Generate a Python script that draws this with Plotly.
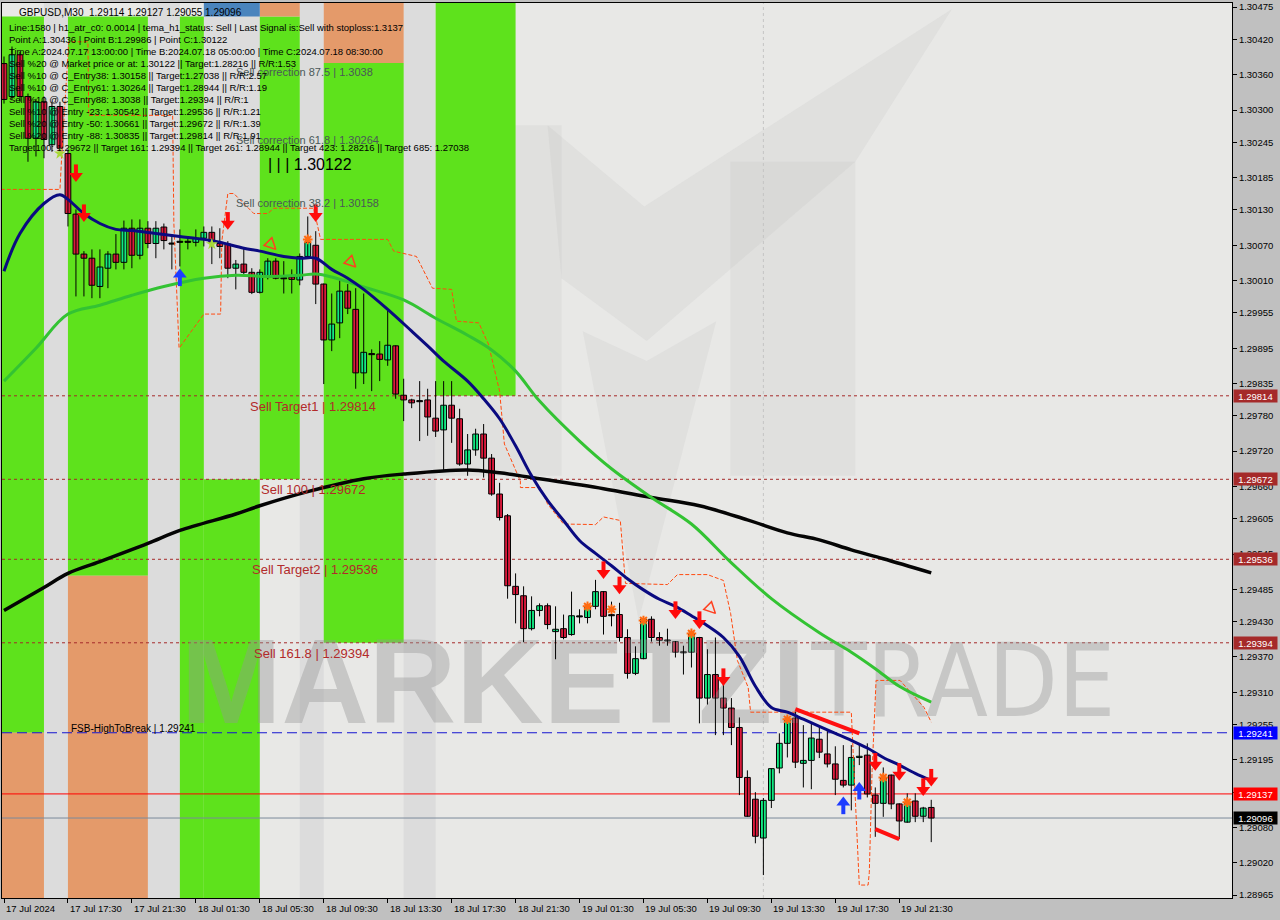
import plotly.graph_objects as go
import pandas as pd

# ---------------- data ----------------
t0 = pd.Timestamp("2024-07-17 13:30")
times = pd.date_range(t0, periods=117, freq="30min")
pos = [int((t - t0) / pd.Timedelta("30min")) for t in times]

opens = [1.30379,1.30323,1.30394,1.30323,1.30252,1.30314,1.30241,1.30306,1.30226,1.30123,
         1.30055,1.30048,1.30000,1.30031,1.30055,1.30041,1.30099,1.30053,1.30099,1.30073,
         1.30101,1.30073,1.30075,1.30075,1.30075,1.30082,1.30092,1.30073,1.30072,1.30031,
         1.30038,1.30024,1.29990,1.30016,1.30043,1.30014,1.30016,1.30011,1.30051,1.30070,
         1.30004,1.29909,1.29938,1.29992,1.29961,1.29853,1.29885,1.29885,1.29875,1.29899,
         1.29815,1.29807,1.29805,1.29807,1.29776,1.29756,1.29798,1.29775,1.29698,1.29722,
         1.29749,1.29708,1.29647,1.29610,1.29490,1.29474,1.29418,1.29449,1.29457,1.29413,
         1.29418,1.29408,1.29439,1.29437,1.29456,1.29481,1.29440,1.29442,1.29403,1.29342,
         1.29367,1.29434,1.29403,1.29398,1.29396,1.29378,1.29378,1.29403,1.29300,1.29340,
         1.29300,1.29283,1.29250,1.29165,1.29128,1.29062,1.29126,1.29181,1.29223,1.29266,
         1.29189,1.29194,1.29230,1.29205,1.29188,1.29160,1.29152,1.29199,1.29203,1.29135,
         1.29121,1.29169,1.29120,1.29089,1.29125,1.29099,1.29114]
highs = [1.30391,1.30408,1.30399,1.30328,1.30319,1.30323,1.30314,1.30314,1.30233,1.30131,
         1.30060,1.30063,1.30063,1.30060,1.30089,1.30112,1.30114,1.30114,1.30111,1.30111,
         1.30107,1.30089,1.30097,1.30085,1.30097,1.30102,1.30102,1.30099,1.30077,1.30045,
         1.30067,1.30031,1.30029,1.30048,1.30048,1.30043,1.30029,1.30056,1.30119,1.30094,
         1.30005,1.29988,1.30012,1.30004,1.29997,1.29988,1.29893,1.29907,1.29961,1.29900,
         1.29843,1.29809,1.29839,1.29826,1.29839,1.29839,1.29839,1.29792,1.29749,1.29758,
         1.29766,1.29715,1.29666,1.29613,1.29512,1.29490,1.29473,1.29461,1.29461,1.29456,
         1.29442,1.29481,1.29451,1.29461,1.29501,1.29482,1.29464,1.29462,1.29417,1.29388,
         1.29437,1.29439,1.29412,1.29418,1.29397,1.29389,1.29413,1.29404,1.29383,1.29403,
         1.29325,1.29300,1.29267,1.29177,1.29140,1.29130,1.29180,1.29240,1.29269,1.29277,
         1.29254,1.29257,1.29254,1.29247,1.29218,1.29220,1.29220,1.29223,1.29223,1.29148,
         1.29182,1.29170,1.29121,1.29138,1.29138,1.29115,1.29127]
lows = [1.30311,1.30318,1.30314,1.30212,1.30221,1.30218,1.30229,1.30229,1.30102,1.29983,
        1.29983,1.29980,1.29980,1.29997,1.30029,1.30029,1.30031,1.30046,1.30065,1.30048,
        1.30063,1.30029,1.30034,1.30063,1.30068,1.30068,1.30038,1.30048,1.30014,1.29995,
        1.30021,1.29987,1.29988,1.30012,1.30012,1.29988,1.29988,1.30002,1.30048,1.29970,
        1.29834,1.29890,1.29912,1.29953,1.29826,1.29834,1.29822,1.29839,1.29865,1.29809,
        1.29771,1.29793,1.29737,1.29746,1.29744,1.29688,1.29734,1.29695,1.29678,1.29712,
        1.29675,1.29644,1.29602,1.29469,1.29427,1.29395,1.29415,1.29439,1.29417,1.29366,
        1.29400,1.29406,1.29427,1.29427,1.29451,1.29408,1.29422,1.29396,1.29333,1.29339,
        1.29366,1.29396,1.29389,1.29389,1.29369,1.29340,1.29352,1.29257,1.29289,1.29237,
        1.29237,1.29220,1.29135,1.29098,1.29053,1.28999,1.29113,1.29172,1.29199,1.29181,
        1.29148,1.29145,1.29198,1.29182,1.29135,1.29148,1.29109,1.29186,1.29131,1.29064,
        1.29098,1.29111,1.29060,1.29088,1.29089,1.29089,1.29055]
closes = [1.30318,1.30394,1.30323,1.30252,1.30314,1.30250,1.30306,1.30235,1.30124,1.30055,
          1.30048,1.30002,1.30033,1.30055,1.30041,1.30099,1.30053,1.30099,1.30073,1.30099,
          1.30078,1.30072,1.30076,1.30075,1.30082,1.30092,1.30075,1.30068,1.30031,1.30038,
          1.30024,1.29990,1.30024,1.30043,1.30014,1.30013,1.30012,1.30051,1.30075,1.30004,
          1.29909,1.29936,1.29992,1.29963,1.29853,1.29888,1.29884,1.29876,1.29900,1.29817,
          1.29807,1.29802,1.29804,1.29778,1.29754,1.29798,1.29776,1.29698,1.29722,1.29749,
          1.29708,1.29647,1.29607,1.29491,1.29476,1.29418,1.29449,1.29457,1.29425,1.29417,
          1.29403,1.29440,1.29438,1.29454,1.29481,1.29439,1.29442,1.29403,1.29342,1.29367,
          1.29434,1.29403,1.29398,1.29397,1.29378,1.29377,1.29410,1.29300,1.29340,1.29300,
          1.29283,1.29250,1.29165,1.29099,1.29065,1.29126,1.29180,1.29223,1.29264,1.29191,
          1.29194,1.29232,1.29208,1.29188,1.29162,1.29152,1.29199,1.29201,1.29137,1.29121,
          1.29165,1.29120,1.29091,1.29121,1.29099,1.29113,1.29096]

# moving averages (bar index, price)
navy_idx = [0,2,5,7,8,10,12,14,16,19,22,25,27,30,32,35,37,39,41,43,45,48,51,53,55,58,60,62,64,66,
            68,70,72,74,76,78,80,82,84,86,88,90,92,94,96,98,100,102,104,106,108,110,112,114,116]
navy_val = [1.30026,1.30090,1.30141,1.30156,1.30148,1.30124,1.30107,1.30097,1.30095,1.30090,
            1.30085,1.30080,1.30075,1.30065,1.30060,1.30051,1.30048,1.30048,1.30029,1.30014,
            1.29995,1.29961,1.29924,1.29899,1.29873,1.29839,1.29809,1.29775,1.29729,1.29678,
            1.29636,1.29602,1.29568,1.29546,1.29525,1.29503,1.29484,1.29468,1.29456,1.29440,
            1.29423,1.29403,1.29371,1.29320,1.29284,1.29276,1.29264,1.29252,1.29240,1.29228,
            1.29215,1.29199,1.29186,1.29172,1.29160]
green_idx = [0,4,8,12,16,20,25,29,33,37,39,41,45,50,54,58,61,64,67,72,76,81,86,91,96,102,106,109,112,116]
green_val = [1.29839,1.29895,1.29953,1.29968,1.29985,1.30000,1.30014,1.30019,1.30017,1.30019,
             1.30021,1.30016,1.29999,1.29977,1.29946,1.29917,1.29892,1.29856,1.29805,1.29737,
             1.29690,1.29641,1.29596,1.29530,1.29469,1.29411,1.29378,1.29350,1.29320,1.29293]
black_idx = [0,5,8,12,18,22,29,32,38,45,50,58,62,67,75,81,87,93,98,102,106,110,116]
black_val = [1.29449,1.29488,1.29512,1.29532,1.29563,1.29585,1.29613,1.29627,1.29651,1.29673,
             1.29681,1.29688,1.29683,1.29673,1.29656,1.29641,1.29627,1.29603,1.29581,1.29569,
             1.29552,1.29537,1.29513]

# trailing stop (orange dash-dot)
stop_idx = [-0.4,7.0,7.25,8.1,10.5,10.6,21.1,21.25,21.9,25.0,27.1,27.25,28.0,28.75,31.25,33.0,33.75,
            38.75,39.6,48.0,48.75,51.6,53.6,56.0,56.6,59.4,60.6,62.0,62.6,64.6,64.6,67.1,68.0,70.0,
            74.0,75.0,77.1,77.75,83.0,84.25,88.0,90.0,90.9,91.75,93.1,93.4,106.0,106.75,107.0,108.1,
            108.25,108.6,109.1,112.1,115.1,116.0]
stop_val = [1.30165,1.30165,1.30229,1.30416,1.30416,1.30291,1.30291,1.30107,1.29895,1.29953,1.29953,
            1.30077,1.30158,1.30158,1.30124,1.30124,1.30133,1.30133,1.30080,1.30080,1.30060,1.30051,
            1.29997,1.29995,1.29941,1.29938,1.29902,1.29822,1.29732,1.29669,1.29658,1.29658,1.29630,
            1.29596,1.29595,1.29608,1.29602,1.29495,1.29493,1.29510,1.29510,1.29500,1.29444,1.29364,
            1.29318,1.29276,1.29276,1.29036,1.28982,1.28982,1.29003,1.29177,1.29330,1.29330,1.29284,
            1.29259]

# levels
sell_names = ["Sell Target1 | 1.29814", "Sell 100 | 1.29672", "Sell Target2 | 1.29536", "Sell 161.8 | 1.29394"]
sell_levels = [1.29814, 1.29672, 1.29536, 1.29394]
sell_label_idx = [30.5, 31.9, 30.75, 31.0]
corr_names = ["Sell correction 87.5 | 1.3038", "Sell correction 61.8 | 1.30264", "Sell correction 38.2 | 1.30158"]
corr_levels = [1.3038, 1.30264, 1.30158]
fsb_level = 1.29241
stop_level = 1.29137
bid_level = 1.29096
entry_c = 1.30122

# signals
down_idx = [9, 10, 28, 39, 75, 77, 84, 87, 90, 109, 112, 115, 116]
down_val = [1.30192, 1.30124, 1.30111, 1.30124, 1.29517, 1.29491, 1.29449, 1.29432, 1.29335, 1.29191, 1.29174, 1.29148, 1.29164]
up_idx = [22, 105, 107]
up_val = [1.30016, 1.29118, 1.29143]
hollow_idx = [34, 44, 89]
hollow_val = [1.30063, 1.30033, 1.29444]
ast_idx = [38, 73, 76, 80, 86, 98, 110, 113]
ast_val = [1.30080, 1.29456, 1.29451, 1.29432, 1.29410, 1.29264, 1.29165, 1.29123]
star_idx = [7, 26]
star_val = [1.30226, 1.30072]
pat1_idx, pat1_val = [99, 107], [1.29281, 1.29240]
pat2_idx, pat2_val = [109, 112], [1.29077, 1.29060]

# background zones (bar index from/to, price from/to, colour key)
zone_x0 = [-1, 8, 22, 25, 32, 40, 54, -1, 8, 32, 40, 25]
zone_x1 = [5, 18, 25, 32, 37, 50, 64, 5, 18, 37, 50, 32]
zone_y0 = [1.29241, 1.29508, 1.28900, 1.28900, 1.29672, 1.29394, 1.29814, 1.28900, 1.28900, 1.30459, 1.3038, 1.30459]
zone_y1 = [1.30459, 1.30459, 1.30459, 1.29672, 1.30459, 1.3038, 1.30500, 1.29241, 1.29508, 1.30500, 1.30500, 1.30500]
zone_c = ["g", "g", "g", "g", "g", "g", "g", "o", "o", "o", "o", "b"]
strip_x0 = [5, 18, 37, 50, 25]
strip_x1 = [8, 22, 40, 54, 32]
strip_y0 = [1.28900, 1.28900, 1.28900, 1.28900, 1.29672]

# faint logo watermark outline (bar index, price)
logo_legs = [(54.0, 69.75, 1.29678, 1.30274), (90.875, 106.5, 1.29678, 1.30212)]
logo_band = [(68.0, 1.30274), (80.1, 1.30136), (118.6, 1.30472), (106.5, 1.30212), (80.4, 1.29907), (69.75, 1.30014)]
logo_low_v = [(72.4, 1.29924), (79.4, 1.29432), (89.1, 1.29941), (80.4, 1.29873)]

tick_vals = [1.30475,1.30420,1.30360,1.30300,1.30245,1.30185,1.30130,1.30070,1.30010,1.29955,1.29895,
             1.29835,1.29780,1.29720,1.29660,1.29605,1.29545,1.29485,1.29430,1.29370,1.29310,1.29255,
             1.29195,1.29140,1.29080,1.29020,1.28965]
x_label_pos = [0,8,16,24,32,40,48,56,64,72,80,88,96,104,112]
x_label_txt = ["17 Jul 2024","17 Jul 17:30","17 Jul 21:30","18 Jul 01:30","18 Jul 05:30","18 Jul 09:30",
               "18 Jul 13:30","18 Jul 17:30","18 Jul 21:30","19 Jul 01:30","19 Jul 05:30","19 Jul 09:30",
               "19 Jul 13:30","19 Jul 17:30","19 Jul 21:30"]
separator_idx = 95

info_lines = [
    "Line:1580 | h1_atr_c0: 0.0014 | tema_h1_status: Sell | Last Signal is:Sell with stoploss:1.3137",
    "Point A:1.30436 | Point B:1.29986 | Point C:1.30122",
    "Time A:2024.07.17 13:00:00 | Time B:2024.07.18 05:00:00 | Time C:2024.07.18 08:30:00",
    "Sell %20 @ Market price or at: 1.30122 || Target:1.28216 || R/R:1.53",
    "Sell %10 @ C_Entry38: 1.30158 || Target:1.27038 || R/R:2.57",
    "Sell %10 @ C_Entry61: 1.30264 || Target:1.28944 || R/R:1.19",
    "Sell %10 @ C_Entry88: 1.3038 || Target:1.29394 || R/R:1",
    "Sell %10 @ Entry -23: 1.30542 || Target:1.29536 || R/R:1.21",
    "Sell %20 @ Entry -50: 1.30661 || Target:1.29672 || R/R:1.39",
    "Sell %20 @ Entry -88: 1.30835 || Target:1.29814 || R/R:1.91",
    "Target100: 1.29672 || Target 161: 1.29394 || Target 261: 1.28944 || Target 423: 1.28216 || Target 685: 1.27038",
]
title_txt = "GBPUSD,M30  1.29114 1.29127 1.29055 1.29096"

# ---------------- figure ----------------
XR = [-0.25, 153.625]
YR = [1.28960, 1.30482]
PX = (YR[1] - YR[0]) / 897.0   # one screen pixel in price units (for arrow glyph assembly)
FONT = "Liberation Sans, Arial, sans-serif"
GREEN_BODY = "#12ea82"
RED_BODY = "#dc1a3c"
LOGO = "rgba(185,185,185,0.17)"
colmap = {"g": "#5ee21c", "o": "#e49a6a", "b": "#4a84bd"}


def hline(level, color, dash=None):
    d = dict(type="line", xref="x", yref="y", x0=XR[0], x1=XR[1], y0=level, y1=level,
             line=dict(color=color, width=1), layer="below")
    if dash:
        d["line"]["dash"] = dash
    return d


def poly(points):
    return "M " + " L ".join(f"{x},{y}" for x, y in points) + " Z"


fig = go.Figure()
shapes = []
# faint logo
for x0, x1, y0, y1 in logo_legs:
    shapes.append(dict(type="rect", xref="x", yref="y", x0=x0, x1=x1, y0=y0, y1=y1,
                       fillcolor=LOGO, line_width=0, layer="below"))
shapes.append(dict(type="path", xref="x", yref="y", path=poly(logo_band), fillcolor=LOGO, line_width=0, layer="below"))
shapes.append(dict(type="path", xref="x", yref="y", path=poly(logo_low_v), fillcolor=LOGO, line_width=0, layer="below"))
for x0, x1, y0 in zip(strip_x0, strip_x1, strip_y0):
    shapes.append(dict(type="rect", xref="x", yref="y", x0=x0, x1=x1, y0=y0, y1=1.30500,
                       fillcolor="#dcdcdc", line_width=0, layer="below"))
for x0, x1, y0, y1, c in zip(zone_x0, zone_x1, zone_y0, zone_y1, zone_c):
    shapes.append(dict(type="rect", xref="x", yref="y", x0=x0, x1=x1, y0=y0, y1=y1,
                       fillcolor=colmap[c], line_width=0, layer="below"))
shapes.append(dict(type="line", xref="x", yref="y", x0=separator_idx, x1=separator_idx, y0=YR[0], y1=YR[1],
                   line=dict(color="#c4c4c4", width=1, dash="dot"), layer="below"))
for lv in sell_levels:
    shapes.append(hline(lv, "#a52a2a", "3px,3px"))
shapes.append(hline(fsb_level, "#1515d0", "10px,5px"))
shapes.append(hline(stop_level, "#ff0000"))
shapes.append(hline(bid_level, "#7a8a9a"))

# watermark text (drawn beneath the candles)
fig.add_trace(go.Scatter(x=[22.1], y=[1.29309], mode="text", text=["MARKETZI"],
                         textposition="middle right", hoverinfo="skip",
                         textfont=dict(family=FONT, size=121, weight="bold", color="rgba(150,150,150,0.40)")))
fig.add_trace(go.Scatter(x=[101.0], y=[1.29312], mode="text", text=["TRADE"],
                         textposition="middle right", hoverinfo="skip",
                         textfont=dict(family="Liberation Sans Narrow, DejaVu Sans Condensed, sans-serif",
                                       size=101, color="rgba(150,150,150,0.40)")))

# trailing stop
fig.add_trace(go.Scatter(x=stop_idx, y=stop_val, mode="lines", hoverinfo="skip",
                         line=dict(color="#ff4a10", width=1, dash="4px,2px")))

# candles: wicks
wx, wy = [], []
for p, h, l in zip(pos, highs, lows):
    wx += [p, p, None]
    wy += [l, h, None]
fig.add_trace(go.Scatter(x=wx, y=wy, mode="lines", line=dict(color="black", width=1), hoverinfo="skip"))
# candles: bodies
base, height, colors = [], [], []
for o, c in zip(opens, closes):
    d = c - o
    base.append(min(o, c))
    if abs(d) < 0.00002:
        height.append(0.000018)
        colors.append("black")
    else:
        height.append(abs(d))
        colors.append(GREEN_BODY if d > 0 else RED_BODY)
fig.add_trace(go.Bar(x=pos, y=height, base=base, width=0.72,
                     marker=dict(color=colors, line=dict(color="black", width=1)), hoverinfo="skip"))

# moving averages
fig.add_trace(go.Scatter(x=black_idx, y=black_val, mode="lines", line=dict(color="#050505", width=3.5, shape="spline"), hoverinfo="skip"))
fig.add_trace(go.Scatter(x=green_idx, y=green_val, mode="lines", line=dict(color="#33c333", width=3, shape="spline"), hoverinfo="skip"))
fig.add_trace(go.Scatter(x=navy_idx, y=navy_val, mode="lines", line=dict(color="#0a0a80", width=3, shape="spline"), hoverinfo="skip"))

# pattern lines
for xi, yi in ((pat1_idx, pat1_val), (pat2_idx, pat2_val)):
    fig.add_trace(go.Scatter(x=xi, y=yi, mode="lines", line=dict(color="#ff1010", width=4), hoverinfo="skip"))

# markers
fig.add_trace(go.Scatter(x=star_idx, y=star_val, mode="markers", hoverinfo="skip",
                         marker=dict(symbol="star", size=9, color="#a8d838")))
fig.add_trace(go.Scatter(x=ast_idx, y=ast_val, mode="markers", hoverinfo="skip",
                         marker=dict(symbol="asterisk-open", size=8, color="#ff6a10", line=dict(color="#ff6a10", width=2))))
fig.add_trace(go.Scatter(x=hollow_idx, y=hollow_val, mode="markers", hoverinfo="skip",
                         marker=dict(symbol="arrow-down-open", angle=-45, size=11, color="#ff4020",
                                     line=dict(color="#ff4020", width=1.5))))
# signal arrows: shaft + head
fig.add_trace(go.Scatter(x=down_idx, y=[v + 3.5 * PX for v in down_val], mode="markers", hoverinfo="skip",
                         marker=dict(symbol="line-ns-open", size=8, color="#ff0a0a", line=dict(color="#ff0a0a", width=4))))
fig.add_trace(go.Scatter(x=down_idx, y=[v - 2.5 * PX for v in down_val], mode="markers", hoverinfo="skip",
                         marker=dict(symbol="triangle-down", size=12, color="#ff0a0a")))
fig.add_trace(go.Scatter(x=up_idx, y=[v - 3.5 * PX for v in up_val], mode="markers", hoverinfo="skip",
                         marker=dict(symbol="line-ns-open", size=8, color="#1e3cff", line=dict(color="#1e3cff", width=4))))
fig.add_trace(go.Scatter(x=up_idx, y=[v + 2.5 * PX for v in up_val], mode="markers", hoverinfo="skip",
                         marker=dict(symbol="triangle-up", size=12, color="#1e3cff")))

ann = []
for name, lv, xi in zip(sell_names, sell_levels, sell_label_idx):
    ann.append(dict(x=xi, y=lv, xref="x", yref="y", text=name, showarrow=False, xanchor="left", yanchor="top",
                    yshift=-1, font=dict(family=FONT, size=13, color="#b22a2a")))
for name, lv in zip(corr_names, corr_levels):
    ann.append(dict(x=28.75, y=lv, xref="x", yref="y", text=name, showarrow=False, xanchor="left", yanchor="top",
                    yshift=-1, font=dict(family=FONT, size=11, color="#4a5858")))
ann.append(dict(x=32.75, y=1.30207, xref="x", yref="y", text="| | | " + f"{entry_c:.5f}", showarrow=False,
                xanchor="left", yanchor="middle", font=dict(family=FONT, size=16, color="black")))
ann.append(dict(x=8.1, y=fsb_level, xref="x", yref="y", text=f"FSB-HighToBreak | {fsb_level:.5f}", showarrow=False,
                xanchor="left", yanchor="bottom", yshift=-3, font=dict(family=FONT, size=10, color="black")))
# info block
ann.append(dict(x=0.0125, y=1.0, xref="paper", yref="paper", text=title_txt, showarrow=False, xanchor="left",
                yanchor="top", yshift=-2, font=dict(family=FONT, size=10, color="black")))
for k, line in enumerate(info_lines):
    ann.append(dict(x=0.004, y=1.0, xref="paper", yref="paper", text=line, showarrow=False, xanchor="left",
                    yanchor="top", yshift=-17 - 12 * k, font=dict(family=FONT, size=9.5, color="black")))
# axis price boxes
box_lv = sell_levels + [fsb_level, stop_level, bid_level]
box_col = ["#a52a2a"] * 4 + ["#0000ff", "#ff0000", "#000000"]
for lv, c in zip(box_lv, box_col):
    ann.append(dict(x=1, y=lv, xref="paper", yref="y", text=f"{lv:.5f}", showarrow=False, xanchor="left",
                    yanchor="middle", xshift=1, bgcolor=c, width=43, height=12, borderpad=0,
                    font=dict(family=FONT, size=9.5, color="white")))
# x labels (left aligned at their tick, MT4 style)
for xp, tx in zip(x_label_pos, x_label_txt):
    ann.append(dict(x=xp, y=0, xref="x", yref="paper", text=tx, showarrow=False, xanchor="left",
                    yanchor="top", yshift=-3, font=dict(family=FONT, size=9.5, color="black")))

fig.update_layout(
    width=1280, height=920, margin=dict(l=1, r=48, t=1, b=22),
    paper_bgcolor="#c0c0c0", plot_bgcolor="#e8e8e6", showlegend=False,
    shapes=shapes, annotations=ann, barmode="overlay",
    xaxis=dict(range=XR, showgrid=False, zeroline=False, showline=True, linecolor="black", mirror=True,
               tickvals=x_label_pos, showticklabels=False, ticks="outside", ticklen=4, tickcolor="black"),
    yaxis=dict(range=YR, side="right", showgrid=False, zeroline=False, showline=True, linecolor="black",
               mirror=True, tickvals=tick_vals, ticktext=[f"{v:.5f}" for v in tick_vals], ticks="outside",
               ticklen=4, tickcolor="black", ticklabeloverflow="allow",
               tickfont=dict(family=FONT, size=9.5, color="black")),
)
fig.write_html("out.html", config={"displayModeBar": False},
               post_script="document.body.style.margin='0';document.body.style.overflow='hidden';")
